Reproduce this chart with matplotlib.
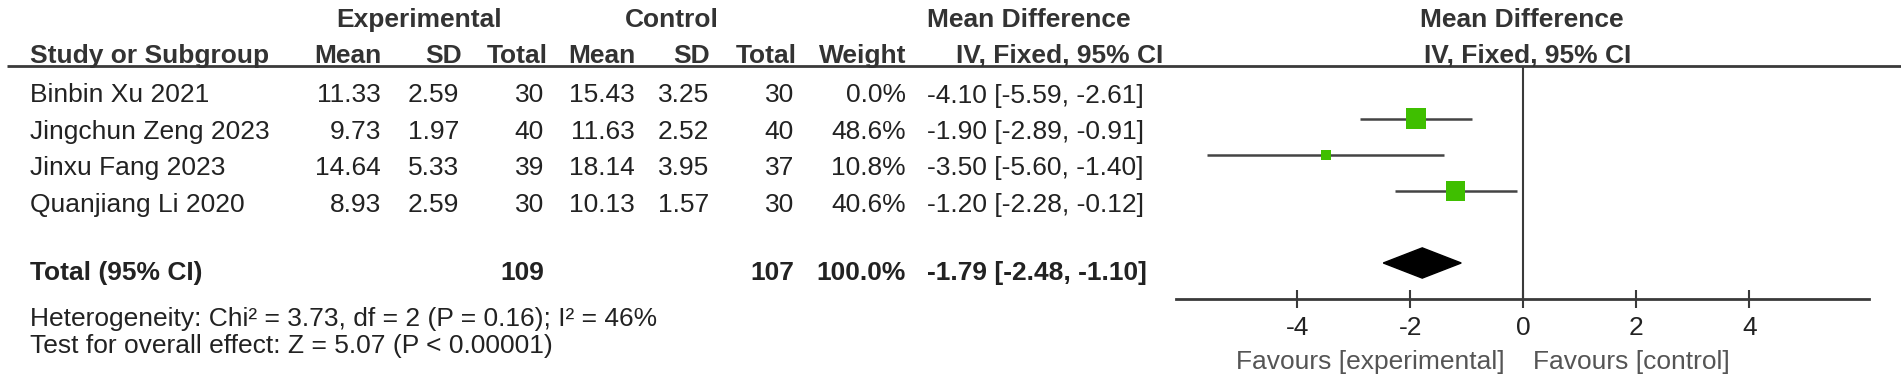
import numpy as np
import matplotlib.pyplot as plt

plt.rcParams['font.family'] = ['Liberation Sans', 'DejaVu Sans']

studies = ['Binbin Xu 2021', 'Jingchun Zeng 2023', 'Jinxu Fang 2023', 'Quanjiang Li 2020']
exp_mean = [11.33, 9.73, 14.64, 8.93]
exp_sd = [2.59, 1.97, 5.33, 2.59]
exp_n = [30, 40, 39, 30]
ctl_mean = [15.43, 11.63, 18.14, 10.13]
ctl_sd = [3.25, 2.52, 3.95, 1.57]
ctl_n = [30, 40, 37, 30]
weight = [0.0, 48.6, 10.8, 40.6]
md = [-4.10, -1.90, -3.50, -1.20]
ci_lo = [-5.59, -2.89, -5.60, -2.28]
ci_hi = [-2.61, -0.91, -1.40, -0.12]

total_exp = 109
total_ctl = 107
total_md = -1.79
total_lo = -2.48
total_hi = -1.10

het_text = 'Heterogeneity: Chi² = 3.73, df = 2 (P = 0.16); I² = 46%'
test_text = 'Test for overall effect: Z = 5.07 (P < 0.00001)'
xticks = [-4, -2, 0, 2, 4]

W, H = 1901, 381
fs = 19
tc = '#222222'
lc = '#3a3a3a'

fig = plt.figure(figsize=(W / 100, H / 100), dpi=100)

# text layer in pixel coordinates
ax_t = fig.add_axes([0, 0, 1, 1])
ax_t.set_xlim(0, W)
ax_t.set_ylim(H, 0)
ax_t.axis('off')


def txt(x, y, s, ha='left', bold=False, color=tc):
    ax_t.text(x, y, s, ha=ha, va='baseline', fontsize=fs, color=color,
              fontweight='bold' if bold else 'normal')


# headers
txt(419, 27, 'Experimental', ha='center', bold=True, color='#333333')
txt(672, 27, 'Control', ha='center', bold=True, color='#333333')
txt(927, 27, 'Mean Difference', bold=True, color='#333333')
txt(1522, 27, 'Mean Difference', ha='center', bold=True, color='#333333')

txt(30, 63, 'Study or Subgroup', bold=True, color='#333333')
for x, s in [(381, 'Mean'), (462, 'SD'), (548, 'Total'), (635, 'Mean'),
             (710, 'SD'), (797, 'Total'), (906, 'Weight')]:
    txt(x, 63, s, ha='right', bold=True, color='#333333')
txt(956, 63, 'IV, Fixed, 95% CI', bold=True, color='#333333')
txt(1528, 63, 'IV, Fixed, 95% CI', ha='center', bold=True, color='#333333')
ax_t.hlines(66, 7, W, color=lc, lw=2)

# study rows
row_y0, row_step = 102.5, 36.4
for i, name in enumerate(studies):
    y = row_y0 + i * row_step
    txt(30, y, name)
    txt(381, y, f'{exp_mean[i]:.2f}', ha='right')
    txt(459, y, f'{exp_sd[i]:.2f}', ha='right')
    txt(544, y, f'{exp_n[i]}', ha='right')
    txt(635, y, f'{ctl_mean[i]:.2f}', ha='right')
    txt(709, y, f'{ctl_sd[i]:.2f}', ha='right')
    txt(794, y, f'{ctl_n[i]}', ha='right')
    txt(906, y, f'{weight[i]:.1f}%', ha='right')
    txt(927, y, f'{md[i]:.2f} [{ci_lo[i]:.2f}, {ci_hi[i]:.2f}]')

# total row
txt(30, 280, 'Total (95% CI)', bold=True)
txt(544, 280, f'{total_exp}', ha='right', bold=True)
txt(794, 280, f'{total_ctl}', ha='right', bold=True)
txt(906, 280, '100.0%', ha='right', bold=True)
txt(927, 280, f'{total_md:.2f} [{total_lo:.2f}, {total_hi:.2f}]', bold=True)
txt(30, 326, het_text)
txt(30, 353, test_text)

txt(1505, 369, 'Favours [experimental]', ha='right', color='#555555')
txt(1533, 369, 'Favours [control]', color='#555555')

# forest plot
px_l, px_r, px_t, px_b = 1176, 1869, 66, 299
ax = fig.add_axes([px_l / W, 1 - px_b / H, (px_r - px_l) / W, (px_b - px_t) / H])
ax.set_xlim(-6.15, 6.12)
ax.set_ylim(6, -0.47)
ax.patch.set_alpha(0)
for sp in ['left', 'right', 'top']:
    ax.spines[sp].set_visible(False)
ax.spines['bottom'].set_color(lc)
ax.spines['bottom'].set_linewidth(2)
ax.set_yticks([])
ax.set_xticks(xticks)
ax.set_xticklabels([str(t) for t in xticks])
ax.tick_params(axis='x', direction='inout', length=13, width=1.5, color=lc,
               labelsize=fs, labelcolor=tc, pad=6)
ax.axvline(0, color=lc, lw=1.5, zorder=1)

w = np.array(weight)
rows = np.arange(len(studies))
shown = w > 0
ax.hlines(rows[shown], np.array(ci_lo)[shown], np.array(ci_hi)[shown],
          color='#444444', lw=1.8, zorder=2)
side_px = 3.0 * np.sqrt(w[shown])
ax.scatter(np.array(md)[shown], rows[shown], marker='s',
           s=(side_px * 0.72) ** 2, color='#3fbf00', edgecolors='none', zorder=3)

total_row = 5
h = 0.42
ax.fill([total_lo, total_md, total_hi, total_md],
        [total_row, total_row - h, total_row, total_row + h],
        color='black', zorder=3)

plt.savefig('out.png', dpi=100)
